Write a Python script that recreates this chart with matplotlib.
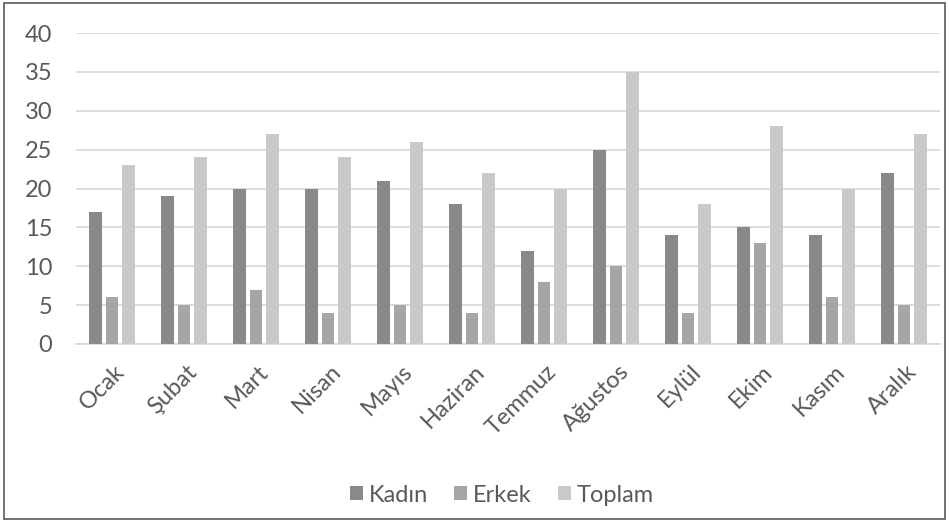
import numpy as np
import matplotlib.pyplot as plt
from matplotlib.patches import Rectangle
from matplotlib.transforms import ScaledTranslation

aylar = ['Ocak', 'Şubat', 'Mart', 'Nisan', 'Mayıs', 'Haziran', 'Temmuz',
         'Ağustos', 'Eylül', 'Ekim', 'Kasım', 'Aralık']
kadin = [17, 19, 20, 20, 21, 18, 12, 25, 14, 15, 14, 22]
erkek = [6, 5, 7, 4, 5, 4, 8, 10, 4, 13, 6, 5]
toplam = [23, 24, 27, 24, 26, 22, 20, 35, 18, 28, 20, 27]

plt.rcParams['font.family'] = ['Lato', 'DejaVu Sans']

fig = plt.figure(figsize=(9.49, 5.22), dpi=100)
ax = fig.add_axes([76/949, 1 - 344/522, 864/949, 311/522])

x = np.arange(len(aylar))
w = 0.175
step = 0.23
ax.bar(x - step, kadin, w, color='#898989', label='Kadın', zorder=3)
ax.bar(x, erkek, w, color='#a6a6a6', label='Erkek', zorder=3)
ax.bar(x + step, toplam, w, color='#c9c9c9', label='Toplam', zorder=3)

ax.set_xlim(-0.5, len(aylar) - 0.5)
ax.set_ylim(0, 40)
ax.set_yticks(range(0, 41, 5))
ax.yaxis.grid(True, color='#d9d9d9', linewidth=1.3, zorder=0)
for s in ['top', 'right', 'left']:
    ax.spines[s].set_visible(False)
ax.spines['bottom'].set_color('#d9d9d9')
ax.spines['bottom'].set_linewidth(1.3)
ax.tick_params(axis='both', length=0, labelsize=17, colors='#595959')
ax.tick_params(axis='y', pad=17)
ax.set_xticks(x)
ax.set_xticklabels(aylar, rotation=45, ha='right', va='top', rotation_mode='anchor')

# shift the slanted month names so their upper right corner sits just right of the tick
offset = ScaledTranslation(2/100, -12/100, fig.dpi_scale_trans)
for lbl in ax.get_xticklabels():
    lbl.set_transform(lbl.get_transform() + offset)

ax.legend(loc='center', bbox_to_anchor=(502/949, 1 - 495/522), bbox_transform=fig.transFigure,
          ncol=3, frameon=False, fontsize=17, labelcolor='#595959',
          handlelength=0.55, handleheight=0.55, handletextpad=0.25, columnspacing=1.1)

fig.patches.append(Rectangle((4/949, 3/522), 941/949, 516/522, transform=fig.transFigure,
                             fill=False, edgecolor='#595959', linewidth=1.2))

fig.savefig('out.png', dpi=100)
